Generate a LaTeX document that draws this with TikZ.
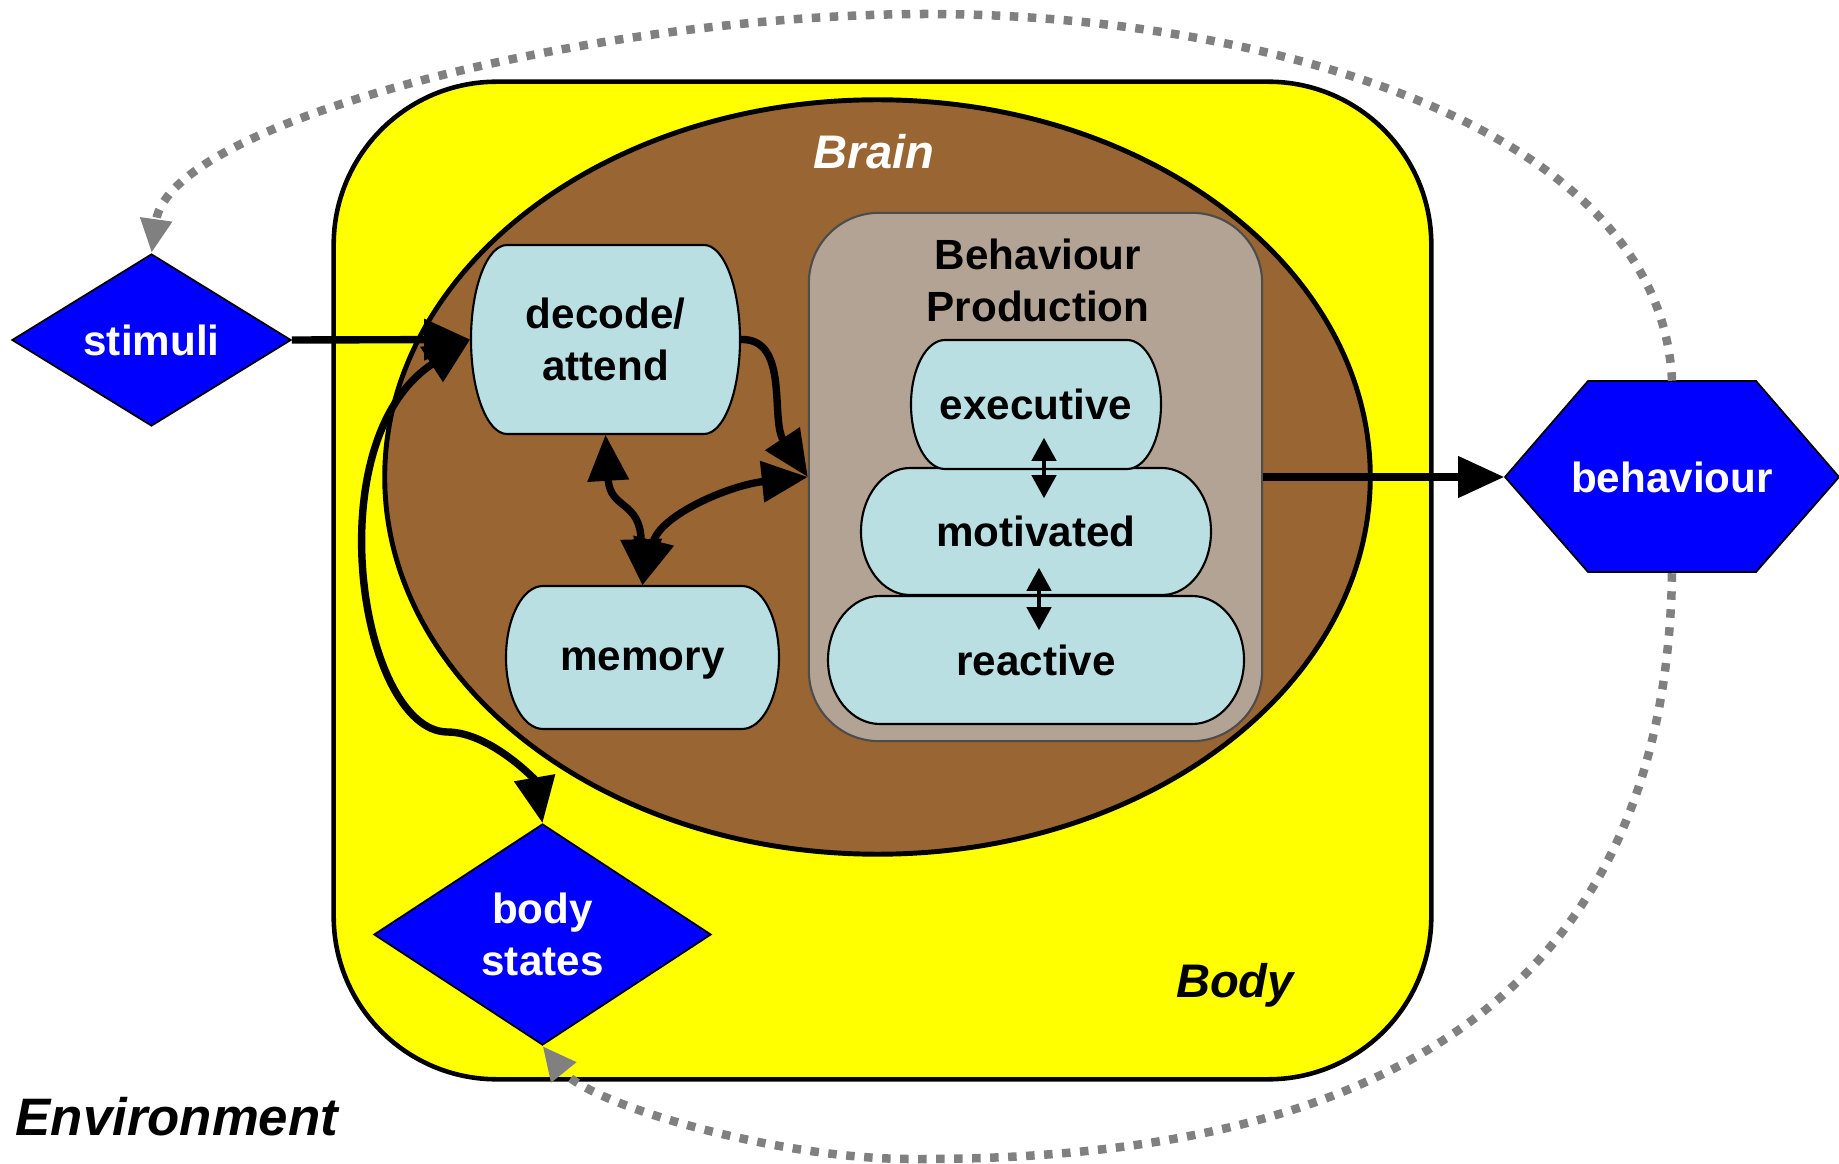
\documentclass[tikz,border=0pt]{standalone}
\usepackage{fontspec}
\setmainfont{Liberation Sans}
\usetikzlibrary{shapes.geometric,arrows.meta,calc}

\definecolor{bodyyellow}{HTML}{FFFF00}
\definecolor{brainbrown}{HTML}{996633}
\definecolor{prodtan}{HTML}{B3A394}
\definecolor{layerblue}{HTML}{B9DFE3}
\definecolor{ioblue}{HTML}{0000FF}
\definecolor{loopgray}{HTML}{808080}

\tikzset{
  lbl/.style={font=\bfseries\fontsize{12}{14.8}\selectfont, align=center},
  pilltext/.style={rectangle, inner sep=0pt, lbl, text=black},
  pillshape/.style={fill=layerblue, draw=black, line width=0.6pt},
  ioshape/.style={fill=ioblue, draw=black, line width=0.5pt, inner sep=0pt, lbl, text=white},
  flow/.style={line width=2.1pt, -{Triangle[length=0.46cm,width=0.4cm]}},
  flowboth/.style={line width=2.1pt, {Triangle[length=0.46cm,width=0.4cm]}-{Triangle[length=0.46cm,width=0.4cm]}},
  layerlink/.style={line width=1.2pt, {Triangle[length=0.23cm,width=0.24cm]}-{Triangle[length=0.23cm,width=0.24cm]}},
  feedback/.style={draw=loopgray, line width=0.085cm, dash pattern=on 0.085cm off 0.095cm,
                   -{Triangle[length=0.34cm,width=0.3cm,fill=loopgray]}},
  caption/.style={font=\bfseries\itshape\fontsize{13.4}{16}\selectfont},
}

% capsule with elliptical ends: name, cx, cy, half width, half height, end radius, text
\newcommand\pillnode[7]{%
  \draw[pillshape] (#2-#4+#6,#3-#5) -- (#2+#4-#6,#3-#5)
     arc[start angle=-90,end angle=90,x radius=#6,y radius=#5]
     -- (#2-#4+#6,#3+#5)
     arc[start angle=90,end angle=270,x radius=#6,y radius=#5] -- cycle;
  \node[pilltext, minimum width=#4*0.02cm, minimum height=#5*0.02cm] (#1) at (#2,#3) {#7};
}

\begin{document}
\begin{tikzpicture}[x=0.01cm, y=-0.01cm]
\useasboundingbox (0,0) rectangle (1839,1164);

% body
\node[rectangle, draw=black, line width=1.3pt, fill=bodyyellow, rounded corners=1.63cm,
      minimum width=10.97cm, minimum height=9.97cm, inner sep=0pt] (body) at (882.5,580.5) {};
% brain
\node[ellipse, draw=black, line width=1.4pt, fill=brainbrown,
      minimum width=9.85cm, minimum height=7.54cm, inner sep=0pt] (brain) at (877.5,477) {};
% behaviour production block
\node[rectangle, draw=black!70, line width=0.6pt, fill=prodtan, rounded corners=0.7cm,
      minimum width=4.53cm, minimum height=5.28cm, inner sep=0pt] (bp) at (1035.5,477) {};
\node[lbl] (bptitle) at (1038,280) {Behaviour\\Production};

% captions
\node[caption, text=white] (brainlbl) at (874,152) {Brain};
\node[caption] (bodylbl) at (1235,985) {Body};
\node[font=\bfseries\itshape\fontsize{15}{18}\selectfont, anchor=base west, inner sep=0pt]
  (envlbl) at (15,1135) {Environment};

% processing units
\pillnode{decode}{605.5}{339.5}{134.5}{94.5}{36}{decode/\\attend}
\pillnode{memory}{642.5}{657.5}{136.5}{71.5}{37}{\smash{\raisebox{-0.125cm}{memory}}}
\pillnode{reactive}{1036}{660}{208}{64}{52}{reactive}
\pillnode{motivated}{1036}{531.5}{175}{63.5}{49}{motivated}
\pillnode{executive}{1036}{404.5}{125}{64.5}{34}{executive}

% inputs and outputs
\node[diamond, ioshape, minimum width=2.79cm, minimum height=1.72cm] (stim) at (151.5,340) {stimuli};
\node[diamond, ioshape, minimum width=3.37cm, minimum height=2.21cm] (states) at (542.5,934.5) {body\\states};
\path[fill=ioblue, draw=black, line width=0.5pt]
  (1505,477) -- (1588,381) -- (1756,381) -- (1839,477) -- (1756,572) -- (1588,572) -- cycle;
\node[lbl, text=white, inner sep=0pt, minimum width=3.34cm, minimum height=1.91cm] (beh) at (1672,477) {behaviour};

% internal flows
\draw[flow] (stim.east) -- (decode.west);
\draw[flow] (decode.east) .. controls (790,338) and (770,420) .. (bp.west);
\draw[flowboth] (decode.south) .. controls (610,510) and (640,500) .. (memory.north);
\draw[flowboth] (memory.north) .. controls (660,515) and (730,485) .. (bp.west);
\draw[flowboth] (states.north) .. controls (535,780) and (490,732) .. (447,732)
                .. controls (360,730) and (315,440) .. (decode.west);
\draw[layerlink] ([shift={(8,-32)}]executive.south) -- ([shift={(8,31)}]motivated.north);
\draw[layerlink] ([shift={(3,-28)}]motivated.south) -- ([shift={(3,35)}]reactive.north);
\draw[flow] (bp.east) -- (beh.west);

% environmental feedback loops
\draw[feedback] (beh.north) .. controls (1660,120) and (1250,14) .. (927,14)
                .. controls (600,14) and (170,120) .. (stim.north);
\draw[feedback] (beh.south) .. controls (1665,1050) and (1300,1160) .. (915,1159)
                .. controls (780,1160) and (590,1105) .. (states.south);
\end{tikzpicture}
\end{document}
